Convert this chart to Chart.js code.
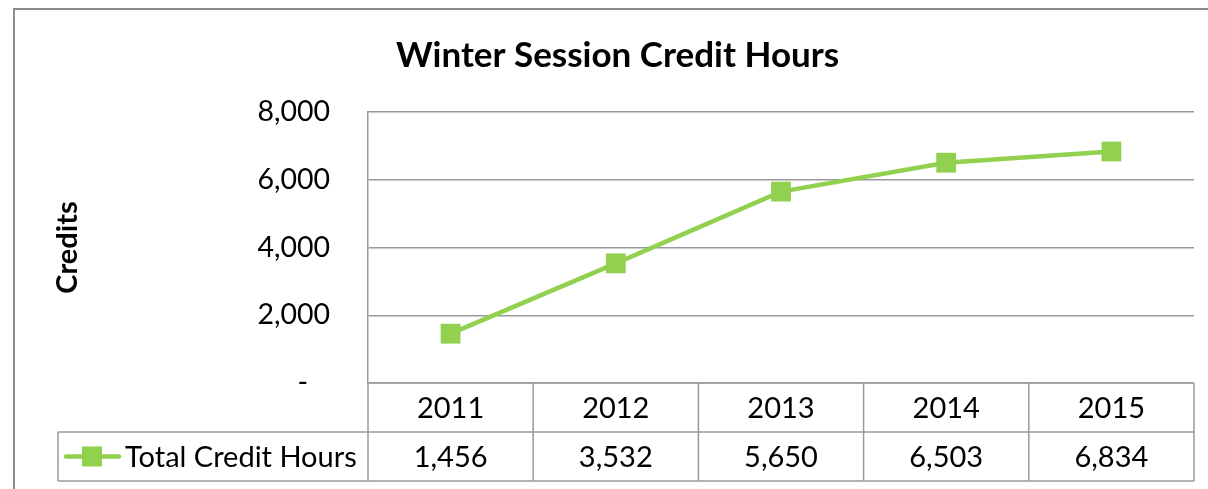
<!DOCTYPE html>
<html>
<head>
<meta charset="utf-8">
<script src="https://cdn.jsdelivr.net/npm/chart.js@4"></script>
<style>
  html, body { margin: 0; padding: 0; background: #fff; }
</style>
</head>
<body>
<canvas id="chart" width="1208" height="489"></canvas>
<script>
'use strict';

// chart data
const years = ['2011', '2012', '2013', '2014', '2015'];
const totalCreditHours = [1456, 3532, 5650, 6503, 6834];
const seriesName = 'Total Credit Hours';
const chartTitle = 'Winter Session Credit Hours';
const yTitle = 'Credits';
const yMin = 0, yMax = 8000, yStep = 2000;

const GREEN = '#92D050';
const GRID = '#9a9a9a';
const FONT = 'Lato';
const ROW_H = 49;
const PAD_LEFT = 40;

function fmt(v) {
  return v === 0 ? '-' : v.toLocaleString('en-US');
}

// outer chart frame, cut off at right and bottom like the screenshot
const frame = {
  id: 'frame',
  beforeDraw: function(chart) {
    const ctx = chart.ctx;
    ctx.save();
    ctx.fillStyle = '#fff';
    ctx.fillRect(0, 0, chart.width, chart.height);
    ctx.strokeStyle = '#8c8c8c';
    ctx.lineWidth = 2;
    ctx.strokeRect(14, 9, chart.width + 40, chart.height + 40);
    ctx.restore();
  }
};

// excel style data table under the plot
const dataTable = {
  id: 'dataTable',
  afterDraw: function(chart) {
    const ctx = chart.ctx;
    const xs = chart.scales.x;
    const area = chart.chartArea;
    const top = area.bottom;
    const legendLeft = 58;

    ctx.save();
    ctx.strokeStyle = GRID;
    ctx.lineWidth = 1.5;

    // horizontal rules
    ctx.beginPath();
    ctx.moveTo(area.left, top);
    ctx.lineTo(area.right, top);
    ctx.moveTo(legendLeft, top + ROW_H);
    ctx.lineTo(area.right, top + ROW_H);
    ctx.moveTo(legendLeft, top + ROW_H * 2);
    ctx.lineTo(area.right, top + ROW_H * 2);
    // legend cell left edge
    ctx.moveTo(legendLeft, top + ROW_H);
    ctx.lineTo(legendLeft, top + ROW_H * 2);
    // column separators
    for (let i = 0; i <= years.length; i++) {
      let x;
      if (i === 0) x = area.left;
      else if (i === years.length) x = area.right;
      else x = (xs.getPixelForValue(i - 1) + xs.getPixelForValue(i)) / 2;
      ctx.moveTo(x, top);
      ctx.lineTo(x, top + ROW_H * 2);
    }
    ctx.stroke();

    // cell text
    ctx.fillStyle = '#000';
    ctx.font = '29px ' + FONT;
    ctx.textAlign = 'center';
    ctx.textBaseline = 'middle';
    years.forEach(function(y, i) {
      const x = xs.getPixelForValue(i);
      ctx.fillText(y, x, top + ROW_H / 2 + 1);
      ctx.fillText(fmt(totalCreditHours[i]), x, top + ROW_H * 1.5 + 1);
    });

    // legend key
    const ky = top + ROW_H * 1.5;
    ctx.strokeStyle = GREEN;
    ctx.lineWidth = 4.5;
    ctx.lineCap = 'round';
    ctx.beginPath();
    ctx.moveTo(66, ky);
    ctx.lineTo(119, ky);
    ctx.stroke();
    ctx.fillStyle = GREEN;
    ctx.fillRect(82, ky - 10, 20, 20);
    ctx.fillStyle = '#000';
    ctx.textAlign = 'left';
    ctx.fillText(seriesName, 125, ky + 1);
    ctx.restore();
  }
};

new Chart(document.getElementById('chart'), {
  type: 'line',
  data: {
    labels: years,
    datasets: [{
      label: seriesName,
      data: totalCreditHours,
      borderColor: GREEN,
      borderWidth: 4.5,
      backgroundColor: GREEN,
      pointStyle: 'rect',
      pointRadius: 14,
      pointBorderWidth: 0,
      pointBackgroundColor: GREEN,
      tension: 0
    }]
  },
  options: {
    responsive: false,
    animation: false,
    devicePixelRatio: 1,
    layout: {
      padding: { left: PAD_LEFT, right: 13, top: 0, bottom: ROW_H * 2 + 8 }
    },
    plugins: {
      legend: { display: false },
      tooltip: { enabled: false },
      title: {
        display: true,
        text: chartTitle,
        color: '#000',
        font: { family: FONT, size: 35, weight: 'bold', lineHeight: 1.2 },
        padding: { top: 35, bottom: 35 }
      }
    },
    scales: {
      x: {
        type: 'category',
        display: false,
        offset: true
      },
      y: {
        min: yMin,
        max: yMax,
        afterFit: function(scale) {
          scale.width = 368 - PAD_LEFT;
        },
        ticks: {
          stepSize: yStep,
          padding: 38,
          color: '#000',
          font: { family: FONT, size: 28.5 },
          // accounting style: the zero dash sits a little in from the right
          callback: function(v) { return v === 0 ? '-   ' : fmt(v); }
        },
        grid: {
          color: GRID,
          lineWidth: 1.5,
          drawTicks: false
        },
        border: { display: true, color: GRID, width: 1.5 },
        title: {
          display: true,
          text: yTitle,
          color: '#000',
          font: { family: FONT, size: 29, weight: 'bold', lineHeight: 1.2 },
          padding: { top: 10, bottom: 0 }
        }
      }
    }
  },
  plugins: [frame, dataTable]
});
</script>
</body>
</html>
